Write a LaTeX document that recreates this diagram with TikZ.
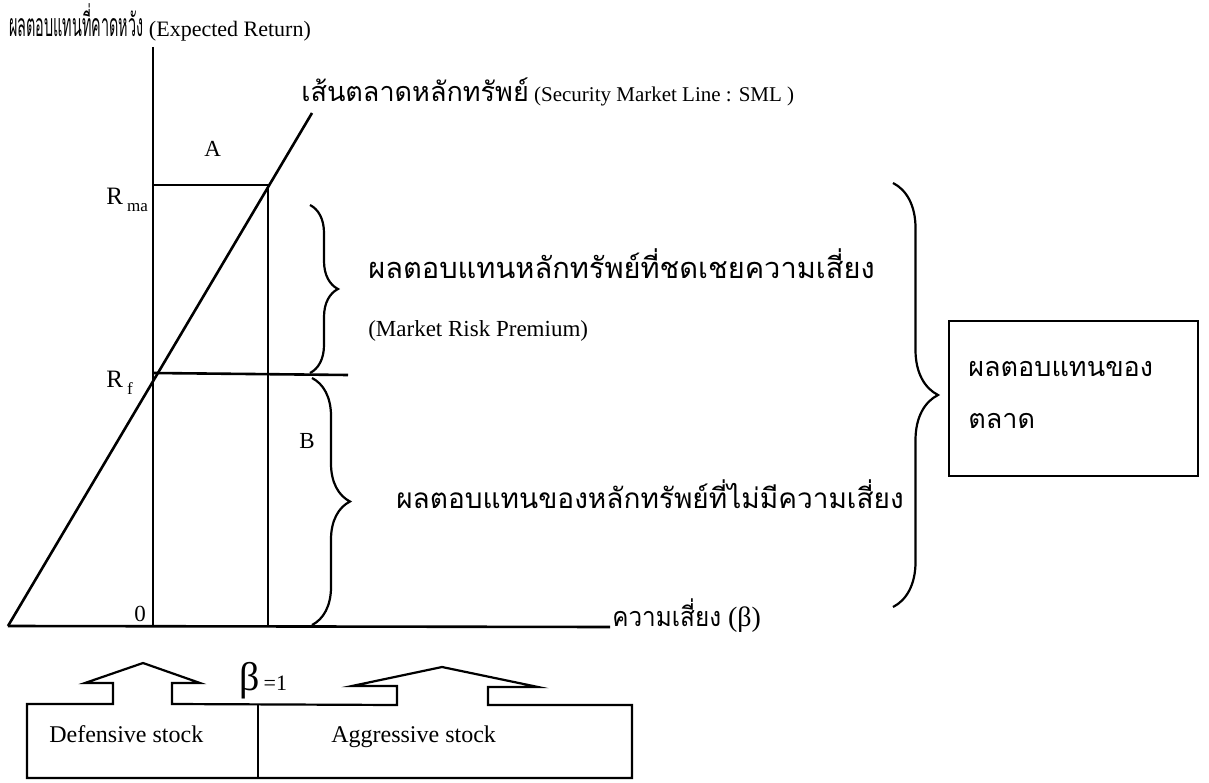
\documentclass[tikz,border=0pt]{standalone}
\usepackage{fontspec}
\setmainfont{Liberation Serif}
\newfontfamily\thaifont[Script=Thai]{Loma}
\newfontfamily\thainarrow[Script=Thai,FakeStretch=0.45]{Loma}
\newfontfamily\thaimid[Script=Thai,FakeStretch=0.9]{Loma}
\usetikzlibrary{decorations.pathreplacing}
\begin{document}
\begin{tikzpicture}[x=1pt,y=-1pt,line width=2.6pt,
  lbl/.style={inner sep=0pt,anchor=base west},
  brc/.style={decorate,decoration={brace,amplitude=#1},line width=2.2pt},
  thin box/.style={line width=2pt}]
\useasboundingbox (0,0) rectangle (1209,783);
% key points
\coordinate (Ytop) at (153,47);
\coordinate (O) at (153,626);
\coordinate (Xl) at (8,626);
\coordinate (Xr) at (610,627);
\coordinate (S0) at (8,626);
\coordinate (S1) at (312,113);
\coordinate (Rf) at (153,373);
\coordinate (RfR) at (348,375);
\coordinate (Rma) at (153,185);
\coordinate (M) at (268,185);
\coordinate (Mb) at (268,626);
% axes and lines
\draw (Ytop) -- (O);
\draw (Xl) -- (Xr);
\draw (S0) -- (S1);
\draw (Rma) -- (M) -- (Mb);
\draw (Rf) -- (RfR);
% braces
\coordinate (b1t) at (310,205); \coordinate (b1b) at (310,373);
\coordinate (b2t) at (312,378); \coordinate (b2b) at (312,625);
\coordinate (b3t) at (893,183); \coordinate (b3b) at (893,607);
\draw[brc=28pt] (b1t) -- (b1b);
\draw[brc=38pt] (b2t) -- (b2b);
\draw[brc=45pt] (b3t) -- (b3b);
% labels on the chart
\node[lbl] (t1) at (8,37) {\thainarrow\fontsize{32}{34}\selectfont ผลตอบแทนที่คาดหวัง\fontsize{22}{26}\rmfamily\selectfont\ (Expected Return)};
\node[lbl] (t2) at (300,102) {\thaifont\fontsize{27}{30}\selectfont เส้นตลาดหลักทรัพย์\fontsize{21}{26}\rmfamily\selectfont\ (Security Market Line : SML )};
\node[lbl] (lA) at (203,157) {\fontsize{23}{26}\selectfont A};
\node[lbl] (lB) at (298,448) {\fontsize{23}{26}\selectfont B};
\node[lbl] (lRma) at (105,205) {\fontsize{25}{28}\selectfont R\,\raisebox{-7pt}{\fontsize{17}{18}\selectfont ma}};
\node[lbl] (lRf) at (105,387) {\fontsize{25}{28}\selectfont R\,\raisebox{-7pt}{\fontsize{17}{18}\selectfont f}};
\node[lbl] (l0) at (133,621) {\fontsize{23}{26}\selectfont 0};
\node[lbl] (t3) at (367,279) {\thaifont\fontsize{29}{30}\selectfont ผลตอบแทนหลักทรัพย์ที่ชดเชยความเสี่ยง};
\node[lbl] (t4) at (367,336) {\fontsize{23}{26}\selectfont (Market Risk Premium)};
\node[lbl] (t5) at (395,508) {\thaifont\fontsize{28}{30}\selectfont ผลตอบแทนของหลักทรัพย์ที่ไม่มีความเสี่ยง};
\node[lbl] (t6) at (611,626) {\thaimid\fontsize{27}{30}\selectfont ความเสี่ยง\fontsize{28}{30}\rmfamily\selectfont\ (β)};
% right box
\node[draw,thin box,minimum width=249pt,minimum height=155pt,anchor=north west,inner sep=0pt] (box) at (948,320) {};
\node[lbl] (bx1) at (967,376) {\thaifont\fontsize{27}{30}\selectfont ผลตอบแทนของ};
\node[lbl] (bx2) at (967,428) {\thaifont\fontsize{27}{30}\selectfont ตลาด};
% bottom block arrows and stock boxes
\draw[thin box,line width=2.2pt] (27,778) -- (27,704) -- (113,704) -- (113,683) -- (85,683) -- (143,663) -- (200,683) -- (172,683) -- (172,704)
  -- (397,705) -- (397,686) -- (352,686) -- (442,667) -- (538,687) -- (488,687) -- (488,705) -- (632,705) -- (632,778) -- cycle;
\coordinate (dv1) at (258,704); \coordinate (dv2) at (258,778);
\draw[line width=2.2pt] (dv1) -- (dv2);
\node[lbl] (beta) at (238,690) {\fontsize{40}{42}\selectfont β\fontsize{22}{24}\selectfont\kern4pt=1};
\node[lbl] (def) at (48,742) {\fontsize{24}{28}\selectfont Defensive stock};
\node[lbl] (agg) at (330,742) {\fontsize{24}{28}\selectfont Aggressive stock};
\end{tikzpicture}
\end{document}
